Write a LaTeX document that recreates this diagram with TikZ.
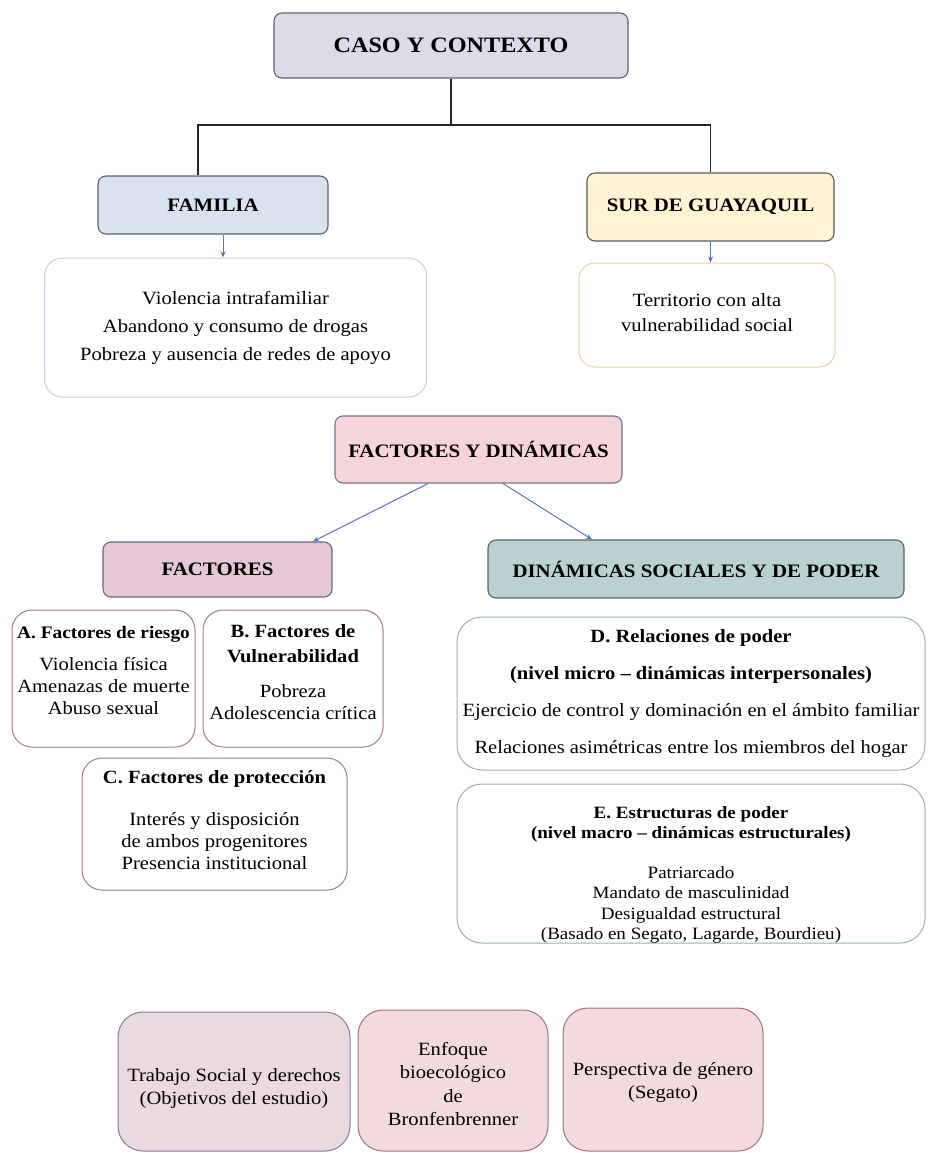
\documentclass[tikz,border=0pt]{standalone}
\usepackage{fontspec}
\setmainfont{Liberation Serif}[FakeStretch=1.1]
\usetikzlibrary{arrows.meta,calc}
\definecolor{cCasoF}{HTML}{DCDCE9}
\definecolor{cCasoD}{HTML}{60606E}
\definecolor{cFamF}{HTML}{D9E3EF}
\definecolor{cFamD}{HTML}{59626F}
\definecolor{cSurF}{HTML}{FEF4D4}
\definecolor{cSurD}{HTML}{5A5A5A}
\definecolor{cFamDet}{HTML}{C9CFDF}
\definecolor{cSurDet}{HTML}{F3CBA6}
\definecolor{cFydF}{HTML}{F6D5DA}
\definecolor{cFydD}{HTML}{727890}
\definecolor{cFacF}{HTML}{E5C7D5}
\definecolor{cFacD}{HTML}{6F6283}
\definecolor{cDinF}{HTML}{B9D1D1}
\definecolor{cDinD}{HTML}{55676B}
\definecolor{cAbc}{HTML}{A77A8A}
\definecolor{cDe}{HTML}{9DB3AA}
\definecolor{cTrF}{HTML}{EBD9E0}
\definecolor{cTrD}{HTML}{7E7F9E}
\definecolor{cPkF}{HTML}{F2DADD}
\definecolor{cPkD}{HTML}{A56F80}
\definecolor{cArr}{HTML}{5877B0}
\newcommand\fbody{\fontsize{18.7}{22}\selectfont}
\newcommand\fhead{\fontsize{19}{22}\selectfont\bfseries}
\tikzset{
  hbox/.style={draw, rounded corners=8pt, line width=1.1pt, inner sep=0pt, align=center, font=\fhead},
  dbox/.style={draw, rounded corners=20pt, line width=1pt, inner sep=0pt},
  txt/.style={inner sep=0pt, align=center, font=\fbody},
  arr/.style={draw=cArr, line width=1pt, -{Stealth[length=6pt,width=5pt]}},
  tree/.style={draw=black!85, line width=1.2pt},
}
\begin{document}
\begin{tikzpicture}[x=1pt,y=-1pt]
\fill[white] (0,0) rectangle (927,1153);
\useasboundingbox (0,0) rectangle (927,1153);

% top level
\node[hbox, fill=cCasoF, draw=cCasoD, minimum width=354, minimum height=65,
      font=\fontsize{22}{24}\selectfont\bfseries] (caso) at (451,45.5) {CASO Y CONTEXTO};
\node[hbox, fill=cFamF, draw=cFamD, minimum width=230, minimum height=58] (fam) at (213,205) {FAMILIA};
\node[hbox, fill=cSurF, draw=cSurD, minimum width=247, minimum height=68] (sur) at (710.5,207) {SUR DE GUAYAQUIL};

\node[dbox, draw=cFamDet, rounded corners=18pt, minimum width=382, minimum height=139] (famdet) at (235.5,327.5) {};
\node[txt, font=\fontsize{18.7}{28}\selectfont] (tfamdet) at (famdet.center) {Violencia intrafamiliar\\ Abandono y consumo de drogas\\ Pobreza y ausencia de redes de apoyo};
\node[dbox, draw=cSurDet, rounded corners=16pt, minimum width=256, minimum height=104] (surdet) at (707,315) {};
\node[txt, font=\fontsize{18.7}{25}\selectfont] (tsurdet) at ([yshift=2]surdet.center) {Territorio con alta\\ vulnerabilidad social};

% connectors top
\coordinate (bus) at (0,125);
\draw[tree] (caso.south) -- (caso.south |- bus);
\draw[tree] ([xshift=-15]fam.north) |- (sur.north |- bus) -- (sur.north);
\draw[arr] ([xshift=10]fam.south) -- ([xshift=10]fam.south |- famdet.north);
\draw[arr] (sur.south) -- (sur.south |- surdet.north);

% middle
\node[hbox, fill=cFydF, draw=cFydD, minimum width=287, minimum height=67] (fyd) at (478.5,449.5) {FACTORES Y DINÁMICAS};
\node[hbox, fill=cFacF, draw=cFacD, minimum width=229, minimum height=55] (fac) at (217.5,569.5) {FACTORES};
\node[hbox, fill=cDinF, draw=cDinD, minimum width=416, minimum height=58] (din) at (696,569) {DINÁMICAS SOCIALES Y DE PODER};
\draw[arr] ([xshift=-50.5]fyd.south) -- ([xshift=95.5]fac.north);
\draw[arr] ([xshift=24.5]fyd.south) -- ([xshift=-104]din.north);

% factores
\node[dbox, draw=cAbc, minimum width=183, minimum height=137] (A) at (103.5,678.5) {};
\node[txt] (tA) at ([yshift=8.5]A.center) {{\fontsize{17.6}{22}\selectfont\bfseries A. Factores de riesgo}\\[10pt] Violencia física\\ Amenazas de muerte\\ Abuso sexual};
\node[dbox, draw=cAbc, minimum width=180, minimum height=137] (B) at (293,678.5) {};
\node[txt] (tB) at ([yshift=6]B.center) {\textbf{B. Factores de}\\[3pt] \textbf{Vulnerabilidad}\\[13pt] Pobreza\\ Adolescencia crítica};
\node[dbox, draw=cAbc, minimum width=265, minimum height=132] (C) at (214.5,824) {};
\node[txt] (tC) at ([yshift=4]C.center) {\textbf{C. Factores de protección}\\[20pt] Interés y disposición\\ de ambos progenitores\\ Presencia institucional};

% dinamicas
\node[dbox, draw=cDe, rounded corners=25pt, minimum width=468, minimum height=153] (D) at (691,693.5) {};
\node[txt] (tD) at (D.center) {\textbf{D. Relaciones de poder}\\[15pt] \textbf{(nivel micro – dinámicas interpersonales)}\\[15pt] Ejercicio de control y dominación en el ámbito familiar\\[15pt] Relaciones asimétricas entre los miembros del hogar};
\node[dbox, draw=cDe, rounded corners=25pt, minimum width=468, minimum height=159] (E) at (691,863.5) {};
\node[txt, font=\fontsize{17.3}{20.5}\selectfont] (tE) at ([yshift=-11.5]E.center) {\textbf{E. Estructuras de poder}\\ \textbf{(nivel macro – dinámicas estructurales)}\\[19pt] Patriarcado\\ Mandato de masculinidad\\ Desigualdad estructural\\ (Basado en Segato, Lagarde, Bourdieu)};

% bottom
\node[dbox, fill=cTrF, draw=cTrD, rounded corners=25pt, minimum width=232, minimum height=139] (T) at (234,1081.5) {};
\node[txt, font=\fontsize{18.7}{23}\selectfont] (tT) at ([yshift=-6.5]T.center) {Trabajo Social y derechos\\ (Objetivos del estudio)};
\node[dbox, fill=cPkF, draw=cPkD, rounded corners=25pt, minimum width=190, minimum height=141] (En) at (453,1080.5) {};
\node[txt, font=\fontsize{18.7}{23.3}\selectfont] (tEn) at ([yshift=-3.5]En.center) {Enfoque\\ bioecológico\\ de\\ Bronfenbrenner};
\node[dbox, fill=cPkF, draw=cPkD, rounded corners=25pt, minimum width=200, minimum height=143] (P) at (663,1079.5) {};
\node[txt, font=\fontsize{18.7}{23}\selectfont] (tP) at ([yshift=-3]P.center) {Perspectiva de género\\ (Segato)};
\end{tikzpicture}
\end{document}
